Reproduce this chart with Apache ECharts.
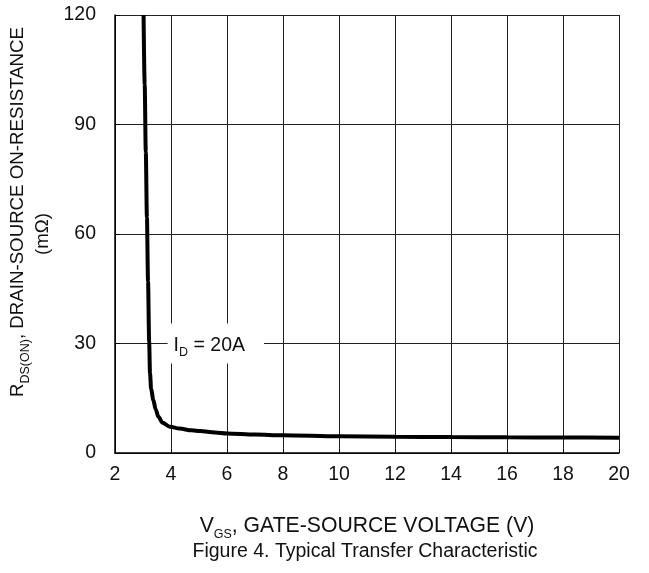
<!DOCTYPE html>
<html>
<head>
<meta charset="UTF-8">
<title>Typical Transfer Characteristic</title>
<script src="https://cdn.jsdelivr.net/npm/echarts@6/dist/echarts.min.js"></script>
<style>
  html, body { margin: 0; padding: 0; background: #fff; }
  #chart1 { width: 649px; height: 573px; }
</style>
</head>
<body>
<div id="chart1"></div>
<script type="text/javascript">
// data
var vgs = [3.02, 3.06, 3.10, 3.14, 3.18, 3.22, 3.25, 3.29, 3.37, 3.45, 3.55, 3.7, 3.96, 4.3, 4.74, 5.04, 5.57, 6, 7, 8, 10, 12, 14, 16, 18, 20];
var rds = [120, 101, 82.5, 64.5, 47, 30.5, 22, 17.5, 14.5, 12, 9.9, 8.3, 7.2, 6.7, 6.2, 6.0, 5.62, 5.35, 5.05, 4.85, 4.57, 4.45, 4.36, 4.29, 4.24, 4.2];
var xTicks = [2, 20, 2];   // min, max, step
var yTicks = [0, 120, 30];
var idLabelAt = [5.6, 30];

var font = 'Liberation Sans, Arial, sans-serif';
var ink = '#111';
var fs = 19.5;

var chart1 = echarts.init(document.getElementById('chart1'));

var points = vgs.map(function (v, i) { return [v, rds[i]]; });

// rich styles for "main + subscript" texts
var richSub = function (size, lh) {
    return {
        p: { width: 44 },
        a: { fontFamily: font, fontSize: size, color: ink, lineHeight: lh, verticalAlign: 'bottom' },
        s: { fontFamily: font, fontSize: 12.5, color: ink, lineHeight: lh, verticalAlign: 'bottom', padding: [0, 0, -4, 0] }
    };
};

var option = {
    backgroundColor: '#fff',
    animation: false,
    title: {
        text: 'Figure 4. Typical Transfer Characteristic',
        left: 365,
        top: 542,
        textAlign: 'center',
        padding: 0,
        textStyle: { fontFamily: font, fontSize: fs, fontWeight: 'normal', color: ink }
    },
    grid: { left: 115, right: 30, top: 15, bottom: 120, show: false },
    xAxis: {
        type: 'value',
        min: xTicks[0], max: xTicks[1], interval: xTicks[2],
        name: '{a|V}{s|GS}{a|, GATE-SOURCE VOLTAGE (V)}',
        nameLocation: 'middle',
        nameGap: 59,
        nameTextStyle: { rich: richSub(21.2, 25) },
        axisLine: { show: true, onZero: false, lineStyle: { color: '#000', width: 1.5 } },
        axisTick: { show: true, inside: true, length: 4, lineStyle: { color: '#000' } },
        axisLabel: { margin: 12, fontFamily: font, fontSize: fs, color: ink },
        splitLine: { show: true, lineStyle: { color: '#222', width: 1 } }
    },
    yAxis: {
        type: 'value',
        min: yTicks[0], max: yTicks[1], interval: yTicks[2],
        name: '{p|}{a|R}{s|DS(ON)}{a|, DRAIN-SOURCE ON-RESISTANCE}\n{a|(m\u03A9)}',
        nameLocation: 'middle',
        nameGap: 57,
        nameTextStyle: { rich: richSub(18.7, 25) },
        axisLine: { show: true, onZero: false, lineStyle: { color: '#000', width: 1.5 } },
        axisTick: { show: true, inside: true, length: 5, lineStyle: { color: '#000' } },
        axisLabel: { margin: 19, fontFamily: font, fontSize: fs, color: ink },
        splitLine: { show: true, lineStyle: { color: '#222', width: 1 } }
    },
    series: [{
        name: 'ID = 20A',
        type: 'line',
        data: points,
        smooth: 0.3,
        smoothMonotone: 'x',
        showSymbol: false,
        clip: true,
        lineStyle: { color: '#000', width: 4 },
        markPoint: {
            symbol: 'rect',
            symbolSize: 0,
            data: [{ coord: idLabelAt }],
            label: {
                show: true,
                position: 'inside',
                formatter: '{a|I}{s|D}{a| = 20A}',
                backgroundColor: '#fff',
                padding: [8, 19, 8, 6],
                rich: richSub(fs, 24)
            }
        }
    }]
};

chart1.setOption(option);
</script>
</body>
</html>
